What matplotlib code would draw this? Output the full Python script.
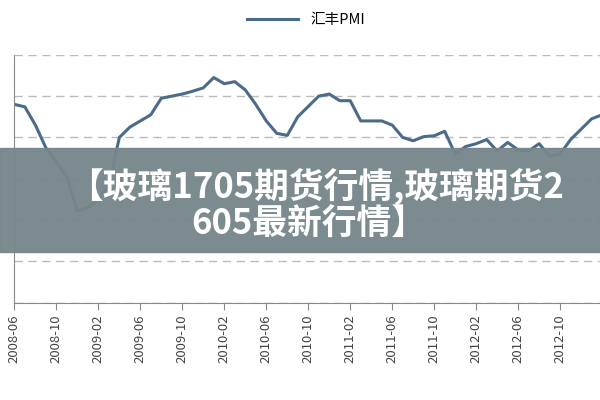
import matplotlib
matplotlib.use("Agg")
import matplotlib.pyplot as plt

plt.rcParams['font.family'] = ['Noto Sans CJK SC', 'DejaVu Sans']

pmi = [4.8, 4.74, 4.3, 3.75, 3.4, 3.05, 2.22, 2.3, 2.5, 2.85, 4.0, 4.25, 4.4, 4.55,
       4.95, 5.0, 5.05, 5.12, 5.2, 5.45, 5.3, 5.35, 5.15, 4.8, 4.4, 4.1, 4.05, 4.5,
       4.75, 5.0, 5.05, 4.89, 4.89, 4.4, 4.4, 4.4, 4.3, 4.0, 3.92, 4.02, 4.04, 4.15,
       3.6, 3.78, 3.85, 3.95, 3.67, 3.88, 3.7, 3.67, 3.85, 3.55, 3.6, 3.95, 4.2, 4.45, 4.55]
tick_labels = ['2008-06', '2008-10', '2009-02', '2009-06', '2009-10', '2010-02', '2010-06',
               '2010-10', '2011-02', '2011-06', '2011-10', '2012-02', '2012-06', '2012-10']
series_name = '汇丰PMI'
title_lines = ['【玻璃1705期货行情,玻璃期货2', '605最新行情】']

fig = plt.figure(figsize=(6, 4), dpi=100)
ax = fig.add_axes([0.024, 0.243, 0.976, 0.62])
ax.plot(range(len(pmi)), pmi, color='#4a6b8a', lw=2.2, label=series_name)
ax.set_xlim(0, 55.8)
ax.set_ylim(0, 6)
ax.set_yticks(range(0, 7))
ax.set_yticklabels([])
ax.tick_params(axis='y', length=0)
ax.yaxis.grid(True, ls=(0, (6, 4)), color='#bbbbbb', lw=1)
ax.set_xticks(range(0, 4 * len(tick_labels), 4))
ax.set_xticklabels(tick_labels, rotation=90, fontsize=9.5, color='#444444')
ax.tick_params(axis='x', length=5, color='#888888')
for s in ['top', 'right']:
    ax.spines[s].set_visible(False)
for s in ['left', 'bottom']:
    ax.spines[s].set_color('#888888')
fig.legend(loc='upper center', bbox_to_anchor=(0.51, 1.0), frameon=False, fontsize=10.5,
           handlelength=3.5)

fig.patches.append(plt.Rectangle((0, 0.37), 1, 0.26, transform=fig.transFigure,
                                 color='#76868a', alpha=0.96, zorder=10))
fig.text(0.527, 0.535, title_lines[0], ha='center', va='center', color='white', fontsize=25,
         fontweight='bold', zorder=11)
fig.text(0.515, 0.44, title_lines[1], ha='center', va='center', color='white', fontsize=25,
         fontweight='bold', zorder=11)
fig.savefig('out.png')
